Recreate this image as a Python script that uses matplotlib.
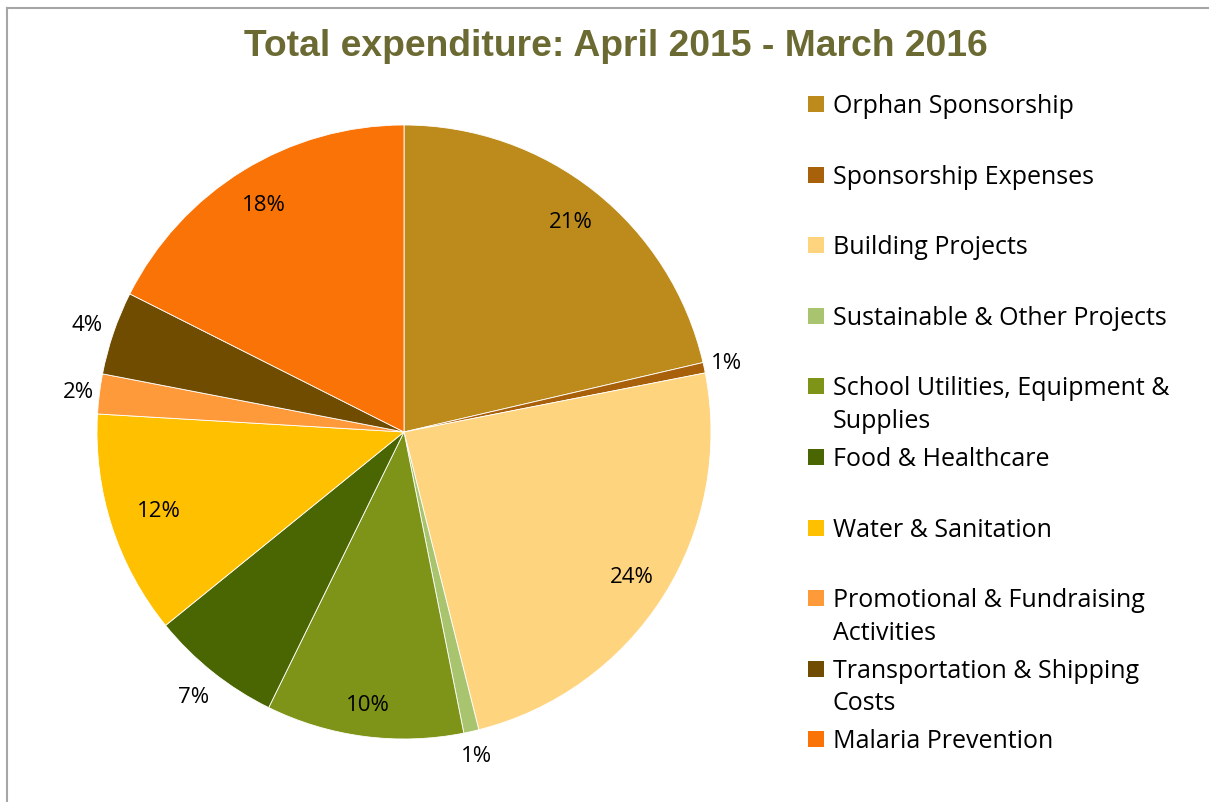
import textwrap
import numpy as np
import matplotlib.pyplot as plt
from matplotlib.lines import Line2D
from matplotlib.patches import Rectangle

# ── data ──
categories = ["Orphan Sponsorship", "Sponsorship Expenses", "Building Projects",
              "Sustainable & Other Projects", "School Utilities, Equipment & Supplies",
              "Food & Healthcare", "Water & Sanitation",
              "Promotional & Fundraising Activities", "Transportation & Shipping Costs",
              "Malaria Prevention"]
shares = [21.4, 0.55, 24.2, 0.8, 10.4, 6.9, 11.8, 2.1, 4.4, 17.6]
colors = ["#BC8B1C", "#A8610A", "#FFD47F", "#A9C46E", "#7E9418",
          "#4A6603", "#FFC000", "#FF9A3A", "#704C00", "#F97306"]

# label distance from centre (fraction of radius), per slice
label_r = [0.876, 1.075, 0.88, 1.08, 0.895, 1.1, 0.84, 1.07, 1.09, 0.87]

W, H = 1209, 803
fig = plt.figure(figsize=(W / 100, H / 100), dpi=100)

# pie: centre (404, 433) px, radius 307 px
cx, cy, R = 404, 433, 307
ax = fig.add_axes([(cx - R) / W, (H - cy - R) / H, 2 * R / W, 2 * R / H])
wedges, _ = ax.pie(shares, colors=colors, startangle=90, counterclock=False,
                   wedgeprops=dict(edgecolor="white", linewidth=0.6))
ax.set_xlim(-1, 1)
ax.set_ylim(-1, 1)
ax.set_aspect("equal")

tot = sum(shares)
for w, v, r in zip(wedges, shares, label_r):
    mid = np.deg2rad((w.theta1 + w.theta2) / 2)
    ax.text(r * np.cos(mid), r * np.sin(mid), f"{100 * v / tot:.0f}%",
            ha="center", va="center", fontsize=16, family="Open Sans",
            color="#000000", clip_on=False)

# title
fig.text(616 / W, 1 - 46 / H, "Total expenditure: April 2015 - March 2016",
         ha="center", va="center", fontsize=26.8, fontweight="bold",
         family="Liberation Sans", color="#6B6A33")

# legend, drawn by hand: fixed slot per entry, text wraps down
for i, (name, c) in enumerate(zip(categories, colors)):
    y = 105 + i * 70.6
    fig.patches.append(Rectangle((808 / W, 1 - (y + 8) / H), 16 / W, 16 / H,
                                 transform=fig.transFigure, facecolor=c,
                                 edgecolor="none"))
    fig.text(833 / W, 1 - (y - 11) / H, textwrap.fill(name, 29),
             ha="left", va="top", fontsize=18, family="Open Sans",
             linespacing=1.4, color="#000000")

# outer frame (left + top)
fig.add_artist(Line2D([6.5 / W, 6.5 / W], [0, 1 - 8.5 / H], transform=fig.transFigure,
                      color="#A6A6A6", linewidth=1.5))
fig.add_artist(Line2D([6.5 / W, 1], [1 - 8.5 / H, 1 - 8.5 / H], transform=fig.transFigure,
                      color="#A6A6A6", linewidth=1.5))

fig.savefig("out.png", dpi=100)
